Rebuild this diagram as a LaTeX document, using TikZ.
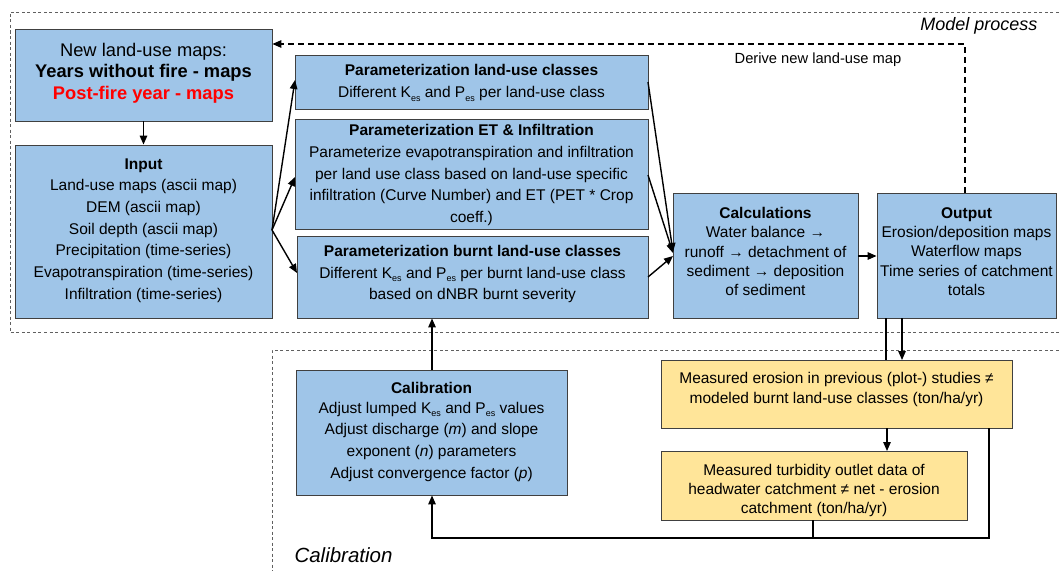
\documentclass[tikz,border=0pt]{standalone}
\usepackage{fontspec}
\setmainfont{Liberation Sans}
\usetikzlibrary{arrows.meta}
\definecolor{boxblue}{HTML}{9FC5E8}
\definecolor{boxyellow}{HTML}{FFE599}
\definecolor{boxborder}{HTML}{404040}
\definecolor{framegray}{HTML}{606060}
\definecolor{firered}{HTML}{FF0000}
\newcommand\subs[1]{\raisebox{-0.45ex}{\fontsize{9}{9}\selectfont #1}}
\tikzset{
  bluebox/.style={draw=boxborder, line width=0.9pt, fill=boxblue, inner sep=0pt},
  yellowbox/.style={draw=boxborder, line width=0.9pt, fill=boxyellow, inner sep=0pt},
  txt/.style={align=center, inner sep=0pt, font=\fontsize{15.5}{21.7}\selectfont},
  txttight/.style={align=center, inner sep=0pt, font=\fontsize{15.5}{19.4}\selectfont},
  frame/.style={draw=framegray, line width=0.8pt, dash pattern=on 3pt off 2.5pt},
  conn/.style={draw=black, line width=1.4pt},
  arr/.style={conn, -{Triangle[length=9pt,width=7.5pt]}},
}
\begin{document}
\begin{tikzpicture}[x=1pt,y=-1pt]
\useasboundingbox (0,0) rectangle (1059,570);
% frames
\draw[frame] (1075,12) -- (10,12) -- (10,332) -- (1075,332);
\draw[frame] (1075,350) -- (272,350) -- (272,580);
\node[font=\fontsize{18}{18}\selectfont\itshape, anchor=east] (lblmodel) at (1041,26) {Model process};
\node[font=\fontsize{20.5}{20.5}\selectfont\itshape, anchor=west] (lblcal) at (291,555) {Calibration};

% boxes
\node[bluebox, minimum width=257pt, minimum height=92pt] (new) at (143.5,75) {};
\node[txt, font=\fontsize{18.3}{21.7}\selectfont] (newt) at (143.5,73) {New land-use maps:\\ \textbf{Years without fire - maps}\\ \textcolor{firered}{\textbf{Post-fire year - maps}}};

\node[bluebox, minimum width=257pt, minimum height=173pt] (input) at (143.5,231.5) {};
\node[txt] (inputt) at (143.5,230.5) {\textbf{Input}\\ Land-use maps (ascii map)\\ DEM (ascii map)\\ Soil depth (ascii map)\\ Precipitation (time-series)\\ Evapotranspiration (time-series)\\ Infiltration (time-series)};

\node[bluebox, minimum width=353pt, minimum height=54pt] (plu) at (471.5,82) {};
\node[txt] (plut) at (471.5,83) {\textbf{Parameterization land-use classes}\\ Different K\subs{es} and P\subs{es} per land-use class};

\node[bluebox, minimum width=353pt, minimum height=110pt] (pet) at (471.5,174) {};
\node[txt] (pett) at (471.5,175) {\textbf{Parameterization ET \& Infiltration}\\ Parameterize evapotranspiration and infiltration\\ per land use class based on land-use specific\\ infiltration (Curve Number) and ET (PET * Crop\\ coeff.)};

\node[bluebox, minimum width=351pt, minimum height=82pt] (pbu) at (472.5,277) {};
\node[txt] (pbut) at (472.5,274) {\textbf{Parameterization burnt land-use classes}\\ Different K\subs{es} and P\subs{es} per burnt land-use class\\ based on dNBR burnt severity};

\node[bluebox, minimum width=185pt, minimum height=125pt] (calc) at (765.5,255.5) {};
\node[txttight] (calct) at (765.5,251.5) {\textbf{Calculations}\\ Water balance →\\ runoff → detachment of\\ sediment → deposition\\ of sediment};

\node[bluebox, minimum width=179pt, minimum height=125pt] (out) at (966.5,255.5) {};
\node[txttight] (outt) at (966.5,251.5) {\textbf{Output}\\ Erosion/deposition maps\\ Waterflow maps\\ Time series of catchment\\ totals};

\node[bluebox, minimum width=271pt, minimum height=125pt] (cal) at (431.5,432.5) {};
\node[txt] (calt) at (431.5,432) {\textbf{Calibration}\\[-2.5pt] Adjust lumped K\subs{es} and P\subs{es} values\\ Adjust discharge (\textit{m}) and slope\\ exponent (\textit{n}) parameters\\ Adjust convergence factor (\textit{p})};

\node[yellowbox, minimum width=351pt, minimum height=68pt] (ero) at (836.5,394) {};
\node[txttight] (erot) at (836.5,389.5) {Measured erosion in previous (plot-) studies ≠\\ modeled burnt land-use classes (ton/ha/yr)};

\node[yellowbox, minimum width=306pt, minimum height=69pt] (turb) at (814,485.5) {};
\node[txttight] (turbt) at (814,490.5) {Measured turbidity outlet data of\\ headwater catchment ≠ net - erosion\\ catchment (ton/ha/yr)};

% connectors
\draw[arr] (new.south) -- (input.north);
\coordinate (inR) at (272,230);
\draw[arr] (inR) -- (295,80);
\draw[arr] (inR) -- (295,177);
\draw[arr] (inR) -- (297,273);
\draw[arr] (648,82) -- (673,252);
\draw[arr] (648,175) -- (673,253);
\draw[arr] (648,277) -- (673,256);
\draw[arr] (calc.east |- 0,256) -- (out.west |- 0,256);
% feedback dashed
\coordinate (fb1) at (965,44);
\draw[conn, dash pattern=on 6pt off 4pt, -{Triangle[length=9pt,width=7.5pt]}] (out.north -| 965,0) -- (fb1) -- (new.east |- 0,44);
\node[font=\fontsize{14.7}{14.7}\selectfont] (fblbl) at (818,60) {Derive new land-use map};
% output to erosion
\draw[conn] (886,318) -- (886,360);
\draw[arr] (902,318) -- (902,360);
\draw[arr] (887,428) -- (887,451);
% calibration loop
\coordinate (lp1) at (989,538);
\coordinate (lp2) at (432,538);
\draw[arr] (989,428) -- (lp1) -- (lp2) -- (cal.south -| 432,0);
\draw[conn] (813,520) -- (813,538);
\draw[arr] (cal.north -| 432,0) -- (pbu.south -| 432,0);
\end{tikzpicture}
\end{document}
